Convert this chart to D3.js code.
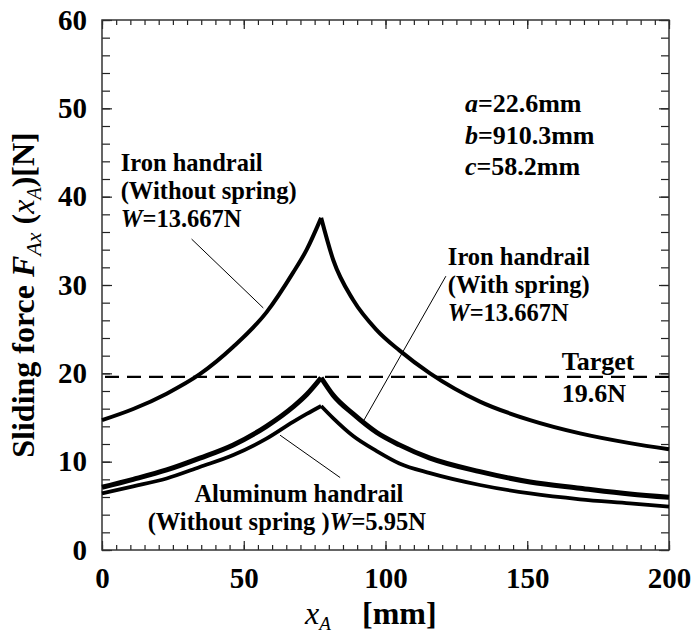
<!DOCTYPE html>
<html>
<head>
<meta charset="utf-8">
<script src="https://cdn.jsdelivr.net/npm/d3@7"></script>
<style>
body { margin: 0; background: #fff; }
svg text { font-family: 'Liberation Serif', 'Times New Roman', 'DejaVu Serif', serif !important; fill: #000; }
</style>
</head>
<body>
<div id="chart"></div>
<script>
// x_A positions [mm]
var xA = [0, 11, 22.8, 34.5, 46.3, 58, 67.4, 72.2, 77.3, 81.6, 88.6, 96.9, 104.9, 115.7, 133.3, 151, 168.6, 186.2, 200];
// sliding force [N]
var ironNoSpring = [14.7, 15.96, 17.7, 19.9, 23.0, 26.9, 31.4, 34.0, 37.6, 32.8, 28.3, 24.9, 22.6, 20.0, 16.8, 14.7, 13.2, 12.1, 11.4];
var ironSpring   = [7.1, 8.0, 9.06, 10.4, 11.9, 14.0, 16.2, 17.6, 19.5, 17.5, 15.4, 13.3, 11.9, 10.4, 8.87, 7.7, 7.0, 6.34, 5.96];
var aluminum     = [6.4, 7.2, 8.1, 9.4, 10.75, 12.6, 14.5, 15.4, 16.3, 14.9, 12.9, 11.2, 9.8, 8.7, 7.36, 6.4, 5.74, 5.28, 4.9];
var target = 19.6;
var xTicks = [0, 50, 100, 150, 200];
var yTicks = [0, 10, 20, 30, 40, 50, 60];

var serif = "'Liberation Serif', 'Times New Roman', 'DejaVu Serif', serif";

var margin = { top: 20, right: 22, bottom: 87, left: 102 },
    width = 691 - margin.left - margin.right,
    height = 637 - margin.top - margin.bottom;

var svg = d3.select("#chart")
    .append("svg")
    .attr("width", width + margin.left + margin.right)
    .attr("height", height + margin.top + margin.bottom)
    .attr("font-family", serif)
    .append("g")
    .attr("transform", "translate(" + margin.left + "," + margin.top + ")");

var x = d3.scaleLinear().domain([0, 200]).range([0, width]);
var y = d3.scaleLinear().domain([0, 60]).range([height, 0]);

// ticks point inward on all four sides
function styleAxis(g) {
    g.attr("font-family", serif);
    g.select(".domain").remove();
    g.selectAll("line").attr("stroke", "#222").attr("stroke-width", 1.2);
    g.selectAll("text").style("font-family", serif)
        .style("font-size", "29px").style("font-weight", "bold");
}
var xMinor = d3.range(0, 201, 5), yMinor = d3.range(0, 61, 2);

svg.append("g").attr("transform", "translate(0," + height + ")")
    .call(d3.axisBottom(x).tickValues(xMinor).tickSize(-5).tickFormat("")).call(styleAxis);
svg.append("g")
    .call(d3.axisTop(x).tickValues(xMinor).tickSize(-5).tickFormat("")).call(styleAxis);
svg.append("g")
    .call(d3.axisLeft(y).tickValues(yMinor).tickSize(-8).tickFormat("")).call(styleAxis);
svg.append("g").attr("transform", "translate(" + width + ",0)")
    .call(d3.axisRight(y).tickValues(yMinor).tickSize(-8).tickFormat("")).call(styleAxis);

svg.append("g").attr("transform", "translate(0," + height + ")")
    .call(d3.axisBottom(x).tickValues(xTicks).tickSize(-9).tickPadding(17)).call(styleAxis);
svg.append("g")
    .call(d3.axisTop(x).tickValues(xTicks).tickSize(-9).tickFormat("")).call(styleAxis);
svg.append("g")
    .call(d3.axisLeft(y).tickValues(yTicks).tickSize(-10).tickPadding(15)).call(styleAxis);
svg.append("g").attr("transform", "translate(" + width + ",0)")
    .call(d3.axisRight(y).tickValues(yTicks).tickSize(-10).tickFormat("")).call(styleAxis);

svg.append("rect")
    .attr("width", width).attr("height", height)
    .attr("fill", "none").attr("stroke", "#333").attr("stroke-width", 1.5);

// target line
svg.append("line")
    .attr("x1", x(0)).attr("x2", x(200))
    .attr("y1", y(target)).attr("y2", y(target))
    .attr("stroke", "#000").attr("stroke-width", 2.2)
    .attr("stroke-dasharray", "14,8").attr("stroke-dashoffset", -3);

// each curve is drawn as two halves so the peak stays sharp
var line = d3.line()
    .x(d => x(d[0]))
    .y(d => y(d[1]))
    .curve(d3.curveMonotoneX);

function drawCurve(values, w) {
    var pts = xA.map((v, i) => [v, values[i]]);
    var peak = d3.maxIndex(values);
    [pts.slice(0, peak + 1), pts.slice(peak)].forEach(function (part) {
        svg.append("path")
            .datum(part)
            .attr("fill", "none")
            .attr("stroke", "#000")
            .attr("stroke-width", w)
            .attr("stroke-linejoin", "round")
            .attr("d", line);
    });
}
drawCurve(ironNoSpring, 4);
drawCurve(ironSpring, 5);
drawCurve(aluminum, 3.8);

// leader lines
function leader(x1, f1, x2, f2) {
    svg.append("line")
        .attr("x1", x(x1)).attr("y1", y(f1))
        .attr("x2", x(x2)).attr("y2", y(f2))
        .attr("stroke", "#000").attr("stroke-width", 1);
}
leader(31.6, 35.2, 56.9, 27.4);
leader(121.3, 31.0, 92.4, 14.7);
leader(62.8, 13.0, 84.0, 8.2);

// annotation text: lines of [text, italic] pieces
function label(xv, fv, lines, size, step) {
    var t = svg.append("text")
        .attr("x", x(xv)).attr("y", y(fv))
        .style("font-family", serif)
        .style("font-size", size + "px").style("font-weight", "bold");
    lines.forEach(function (segs, i) {
        segs.forEach(function (s, j) {
            var ts = t.append("tspan").text(s[0]);
            if (j === 0) ts.attr("x", x(xv)).attr("dy", i === 0 ? 0 : step);
            if (s[1]) ts.style("font-style", "italic");
        });
    });
}
label(6.6, 42.94, [[["Iron handrail"]], [["(Without spring)"]], [["W", 1], ["=13.667N"]]], 24.5, 28);
label(122.0, 32.27, [[["Iron handrail"]], [["(With spring)"]], [["W", 1], ["=13.667N"]]], 24.5, 28);
label(32.6, 5.47, [[["Aluminum handrail"]]], 24.5, 28);
label(16.1, 2.26, [[["(Without spring )"], ["W", 1], ["=5.95N"]]], 24.5, 28);
label(162.2, 20.38, [[["Target"]], [["19.6N"]]], 26, 31.7);
label(128.0, 49.6, [[["a", 1], ["=22.6mm"]], [["b", 1], ["=910.3mm"]], [["c", 1], ["=58.2mm"]]], 26, 31.7);

// y axis title
var yt = svg.append("text")
    .attr("transform", "translate(" + (34 - margin.left) + "," + (height / 2 + 10) + ") rotate(-90)")
    .attr("text-anchor", "middle")
    .style("font-family", serif)
    .style("font-size", "32px");
yt.append("tspan").text("Sliding force ").style("font-weight", "bold");
yt.append("tspan").text("F").style("font-weight", "bold").style("font-style", "italic");
yt.append("tspan").text("Ax").style("font-style", "italic").style("font-size", "22px").attr("dy", 7);
yt.append("tspan").text(" (").style("font-weight", "bold").attr("dy", -7);
yt.append("tspan").text("x").style("font-style", "italic");
yt.append("tspan").text("A").style("font-style", "italic").style("font-size", "20px").attr("dy", 7);
yt.append("tspan").text(")[N]").style("font-weight", "bold").attr("dy", -7);

// x axis title
var xt = svg.append("text")
    .attr("x", 305 - margin.left).attr("y", 624 - margin.top)
    .style("font-family", serif)
    .style("font-size", "32px");
xt.append("tspan").text("x").style("font-style", "italic");
xt.append("tspan").text("A").style("font-style", "italic").style("font-size", "19px").attr("dy", 6);
svg.append("text")
    .attr("x", 362 - margin.left).attr("y", 624 - margin.top)
    .style("font-family", serif)
    .style("font-size", "32px").style("font-weight", "bold")
    .text("[mm]");
</script>
</body>
</html>
